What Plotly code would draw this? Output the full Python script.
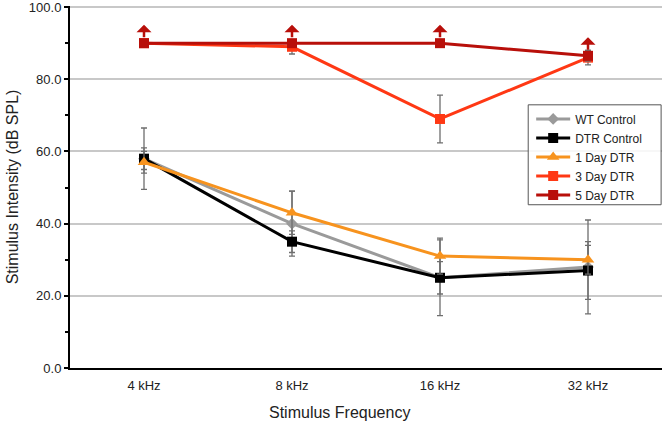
import plotly.graph_objects as go

categories = ["4 kHz", "8 kHz", "16 kHz", "32 kHz"]

wt_control = [58, 40, 25, 28]
wt_err = [8.5, 9, 4.5, 13]
dtr_control = [58, 35, 25, 27]
dtr_err = [3, 3, 10.5, 8]
day1_dtr = [57, 43, 31, 30]
day1_err = [3, 6, 5, 4]
day3_dtr = [90, 89, 69, 86]
day3_err = [1, 2, 6.6, 2]
day5_dtr = [90, 90, 90, 86.5]
day5_err = [0.5, 0.5, 0.5, 1.5]

series = [
    ("WT Control", wt_control, wt_err, "#9a9a9a", "diamond", 9),
    ("DTR Control", dtr_control, dtr_err, "#000000", "square", 10),
    ("1 Day DTR", day1_dtr, day1_err, "#f7931e", "triangle-up", 11),
    ("3 Day DTR", day3_dtr, day3_err, "#ff3814", "square", 10),
    ("5 Day DTR", day5_dtr, day5_err, "#b80f0a", "square", 10),
]

fig = go.Figure()
for name, vals, errs, color, sym, size in series:
    fig.add_trace(go.Scatter(
        x=categories, y=vals, name=name, mode="lines+markers",
        line=dict(color=color, width=3),
        marker=dict(color=color, symbol=sym, size=size),
        error_y=dict(type="data", array=errs, visible=True,
                     color="#6e6e6e", thickness=1.3, width=3),
    ))

# upward arrows on 5 Day DTR (no response at max level)
for c, v in zip(categories, day5_dtr):
    fig.add_annotation(x=c, y=v, xref="x", yref="y", text="",
                       showarrow=True, arrowside="start", arrowhead=2,
                       arrowsize=1.1, arrowwidth=2.5, arrowcolor="#b80f0a",
                       ax=0, ay=-20, standoff=6)

fig.add_annotation(text="Stimulus Frequency", xref="paper", yref="paper",
                   x=0.456, y=0, xanchor="center", yanchor="middle",
                   yshift=-44, showarrow=False, font=dict(size=16, color="#222"))

# legend frame
fig.add_shape(type="rect", xref="paper", yref="paper",
              x0=0.774, x1=0.9985, y0=0.451, y1=0.727,
              line=dict(color="#555", width=1), fillcolor="rgba(255,255,255,0.85)",
              layer="above")

fig.update_layout(
    width=666, height=426,
    margin=dict(l=70, r=4, t=6, b=58),
    paper_bgcolor="white", plot_bgcolor="white",
    font=dict(family="Liberation Sans, Arial, sans-serif", size=13, color="#222"),
    showlegend=True,
    legend=dict(x=0.779, y=0.728, xanchor="left", yanchor="top",
                borderwidth=0, bgcolor="rgba(0,0,0,0)",
                font=dict(size=12), tracegroupgap=0, itemwidth=34),
)
fig.update_xaxes(
    type="category", range=[-0.5, 3.5], automargin=False,
    showline=True, linecolor="black", linewidth=2,
    showgrid=False, ticks="", ticklabelstandoff=4,
    tickfont=dict(size=13),
)
fig.update_yaxes(
    range=[0, 100.3], tickvals=[0, 20, 40, 60, 80, 100], automargin=False,
    ticktext=["0.0", "20.0", "40.0", "60.0", "80.0", "100.0"],
    ticklabeloverflow="allow",
    showline=True, linecolor="black", linewidth=2,
    showgrid=True, gridcolor="#c8c8c8", gridwidth=1.5,
    ticks="outside", ticklen=4, tickwidth=2, tickcolor="black",
    minor=dict(tickvals=[10, 30, 50, 70, 90], ticks="outside", ticklen=3,
               tickwidth=2, tickcolor="black", showgrid=False),
    title=dict(text="Stimulus Intensity (dB SPL)", font=dict(size=16), standoff=6),
    tickfont=dict(size=13),
    zeroline=False,
)

fig.write_html("out.html", config={"displayModeBar": False},
               post_script="document.body.style.margin='0px';")
